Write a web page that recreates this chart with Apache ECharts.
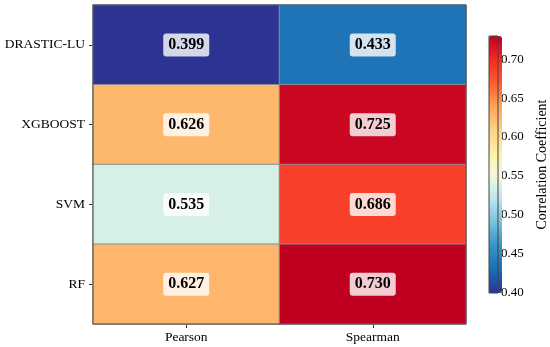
<!DOCTYPE html>
<html>
<head>
<meta charset="utf-8">
<script src="https://cdn.jsdelivr.net/npm/echarts@6/dist/echarts.min.js"></script>
<style>html,body{margin:0;padding:0;background:#fff}#c{width:550px;height:347px}</style>
</head>
<body>
<div id="c"></div>
<script>
// ---- data ----
const methods = ['DRASTIC-LU', 'XGBOOST', 'SVM', 'RF'];
const metrics = ['Pearson', 'Spearman'];
const pearson = [0.399, 0.626, 0.535, 0.627];
const spearman = [0.433, 0.725, 0.686, 0.730];
const colorbarTicks = [0.40, 0.45, 0.50, 0.55, 0.60, 0.65, 0.70];
const colorMin = 0.399;
const colorMax = 0.730;
const colorStops = ['#2c3393', '#1a6fb5', '#3592c4', '#74c0da', '#b9e4ee', '#f0f9e0',
                    '#fff0a8', '#fed184', '#fca35a', '#fd5a30', '#f42a24', '#c00020'];

const cells = [];
methods.forEach((m, i) => {
  cells.push([0, i, pearson[i]]);
  cells.push([1, i, spearman[i]]);
});

const FONT = "'Liberation Serif', 'Times New Roman', serif";
const chart = echarts.init(document.getElementById('c'), null, {renderer: 'canvas'});
chart.setOption({
  animation: false,
  backgroundColor: '#fff',
  grid: [
    {left: 93, right: 84, top: 5, bottom: 23, show: true, borderColor: '#555', borderWidth: 1, backgroundColor: 'transparent', z: 5},
    {left: 489, width: 13, top: 36, height: 257, show: true, borderColor: '#444', borderWidth: 1, backgroundColor: 'transparent', z: 10}
  ],
  xAxis: [
    {type: 'category', gridIndex: 0, data: metrics,
     axisLine: {show: false},
     axisTick: {show: true, alignWithLabel: true, length: 4, lineStyle: {color: '#333'}},
     axisLabel: {fontFamily: FONT, fontSize: 13.5, color: '#000', margin: 6},
     splitLine: {show: false}},
    {type: 'value', gridIndex: 1, show: false, min: 0, max: 1}
  ],
  yAxis: [
    {type: 'category', gridIndex: 0, data: methods, inverse: true,
     axisLine: {show: false},
     axisTick: {show: true, alignWithLabel: true, length: 4, lineStyle: {color: '#333'}},
     axisLabel: {fontFamily: FONT, fontSize: 13.5, color: '#000', margin: 8},
     splitLine: {show: false}},
    {type: 'value', gridIndex: 1, position: 'right', min: colorMin, max: colorMax,
     axisLine: {show: false},
     axisTick: {show: true, length: 4, lineStyle: {color: '#333'}, customValues: colorbarTicks},
     axisLabel: {fontFamily: FONT, fontSize: 13, color: '#000', margin: 3,
                 customValues: colorbarTicks, formatter: v => v.toFixed(2)},
     splitLine: {show: false},
     name: 'Correlation Coefficient', nameLocation: 'middle', nameRotate: 90, nameGap: 37,
     nameTextStyle: {fontFamily: FONT, fontSize: 14, color: '#000'}}
  ],
  visualMap: {
    type: 'continuous', seriesIndex: 0, min: colorMin, max: colorMax,
    calculable: false, show: true, orient: 'vertical',
    left: 489, top: 36, itemWidth: 13, itemHeight: 257, padding: 0,
    text: null, showLabel: false,
    inRange: {color: colorStops}
  },
  series: [{
    type: 'heatmap', xAxisIndex: 0, yAxisIndex: 0, data: cells,
    itemStyle: {borderColor: '#8a8a8a', borderWidth: 1},
    label: {
      show: true, formatter: p => p.value[2].toFixed(3),
      fontFamily: FONT, fontSize: 16, fontWeight: 'bold', color: '#000',
      backgroundColor: 'rgba(255,255,255,0.8)', padding: [4, 5, 3, 5], borderRadius: 3
    },
    emphasis: {disabled: true}
  }]
});
</script>
</body>
</html>
